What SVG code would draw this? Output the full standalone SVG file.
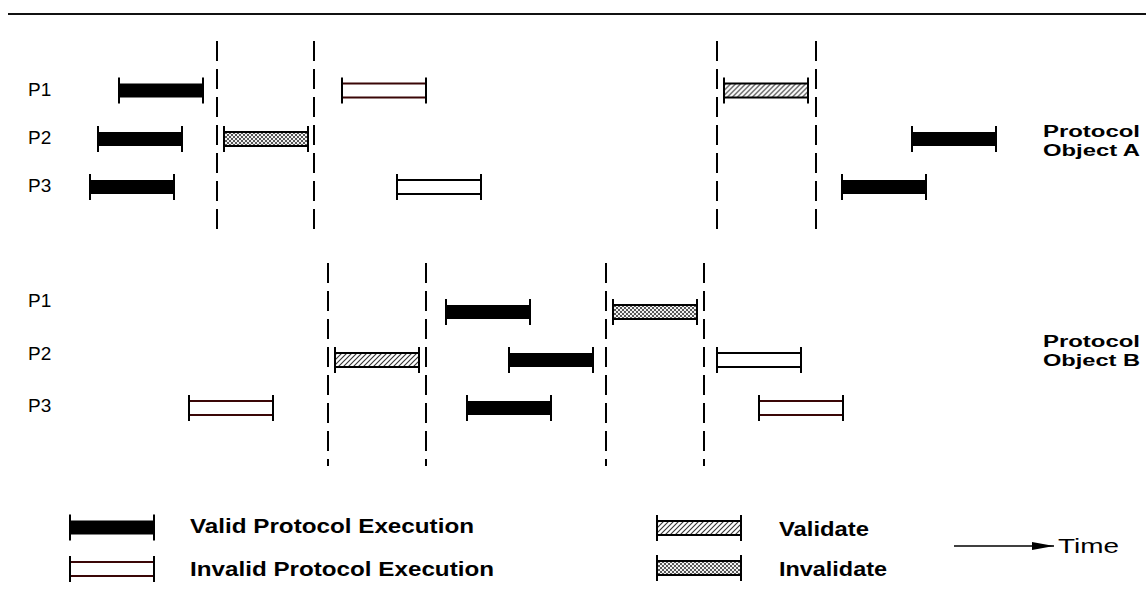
<svg xmlns="http://www.w3.org/2000/svg" xmlns:xlink="http://www.w3.org/1999/xlink" width="1146" height="603" viewBox="0 0 1146 603">
  <style>
    .lbl { font-family: "Liberation Sans", Arial, sans-serif; font-size: 19px; fill: #000; }
    .obj { font-family: "Liberation Sans", Arial, sans-serif; font-size: 16px; font-weight: bold; fill: #000; }
    .leg { font-family: "Liberation Sans", Arial, sans-serif; font-size: 21px; font-weight: bold; fill: #000; }
    .time { font-family: "Liberation Sans", Arial, sans-serif; font-size: 20px; fill: #000; }
    .divider { stroke: #000; stroke-width: 2; stroke-dasharray: 20 8; fill: none; }
    .tick { stroke: #000; stroke-width: 2; }
    .edge { stroke: #000; stroke-width: 2; }
    .edge-red { stroke: #3a0606; stroke-width: 2; }
  </style>
  <defs>
    <!-- diagonal hatch used for "Validate" -->
    <pattern id="hatch" width="5" height="5" patternUnits="userSpaceOnUse">
      <rect width="5" height="5" fill="#fff"/>
      <path d="M0,5 L5,0 M-1,1 L1,-1 M4,6 L6,4" stroke="#333" stroke-width="1.1"/>
    </pattern>
    <!-- cross hatch used for "Invalidate" -->
    <pattern id="cross" width="4" height="4" patternUnits="userSpaceOnUse">
      <rect width="4" height="4" fill="#f2f2f2"/>
      <path d="M0,0 L4,4 M4,0 L0,4" stroke="#444" stroke-width="0.9"/>
    </pattern>
    <marker id="arrow" markerWidth="22" markerHeight="10" refX="22" refY="4" orient="auto" markerUnits="userSpaceOnUse">
      <path d="M0,0 L22,4 L0,8 Z" fill="#000"/>
    </marker>

    <!-- bar shapes, 84 wide, centred vertically on y=0 -->
    <g id="bar-valid">
      <rect x="0" y="-7" width="84" height="14" fill="#000"/>
      <line class="tick" x1="0" y1="-13" x2="0" y2="13"/>
      <line class="tick" x1="84" y1="-13" x2="84" y2="13"/>
    </g>
    <g id="bar-invalid">
      <rect x="0" y="-7" width="84" height="14" fill="#fff"/>
      <line class="edge" x1="0" y1="-7" x2="84" y2="-7"/>
      <line class="edge" x1="0" y1="7" x2="84" y2="7"/>
      <line class="tick" x1="0" y1="-13" x2="0" y2="13"/>
      <line class="tick" x1="84" y1="-13" x2="84" y2="13"/>
    </g>
    <g id="bar-invalid-red">
      <rect x="0" y="-7" width="84" height="14" fill="#fff"/>
      <line class="edge-red" x1="0" y1="-7" x2="84" y2="-7"/>
      <line class="edge-red" x1="0" y1="7" x2="84" y2="7"/>
      <line class="tick" x1="0" y1="-13" x2="0" y2="13"/>
      <line class="tick" x1="84" y1="-13" x2="84" y2="13"/>
    </g>
    <g id="bar-validate">
      <rect x="0" y="-7" width="84" height="14" fill="url(#hatch)" stroke="#000" stroke-width="2"/>
      <line class="tick" x1="0" y1="-13" x2="0" y2="13"/>
      <line class="tick" x1="84" y1="-13" x2="84" y2="13"/>
    </g>
    <g id="bar-invalidate">
      <rect x="0" y="-7" width="84" height="14" fill="url(#cross)" stroke="#000" stroke-width="2"/>
      <line class="tick" x1="0" y1="-13" x2="0" y2="13"/>
      <line class="tick" x1="84" y1="-13" x2="84" y2="13"/>
    </g>
  </defs>

  <rect width="1146" height="603" fill="#fff"/>

  <!-- header rule -->
  <line x1="8" y1="14" x2="1146" y2="14" stroke="#111" stroke-width="1.8"/>

  <!-- phase dividers -->
  <g id="connectors">
    <line class="divider" x1="217" y1="41" x2="217" y2="229"/>
    <line class="divider" x1="314" y1="41" x2="314" y2="229"/>
    <line class="divider" x1="717" y1="41" x2="717" y2="229"/>
    <line class="divider" x1="816" y1="41" x2="816" y2="229"/>
    <line class="divider" x1="328" y1="263" x2="328" y2="466"/>
    <line class="divider" x1="426" y1="263" x2="426" y2="466"/>
    <line class="divider" x1="606" y1="263" x2="606" y2="466"/>
    <line class="divider" x1="704" y1="263" x2="704" y2="466"/>
    <line x1="954" y1="546" x2="1054" y2="546" stroke="#000" stroke-width="1.3" marker-end="url(#arrow)"/>
  </g>

  <!-- Protocol Object A -->
  <g id="rows-a">
    <text class="lbl" x="28" y="96">P1</text>
    <text class="lbl" x="28" y="144">P2</text>
    <text class="lbl" x="28" y="192">P3</text>
  </g>
  <g id="a-p1-valid"><use xlink:href="#bar-valid" x="119" y="90.5"/></g>
  <g id="a-p1-invalid"><use xlink:href="#bar-invalid-red" x="342" y="90.5"/></g>
  <g id="a-p1-validate"><use xlink:href="#bar-validate" x="724" y="90.5"/></g>
  <g id="a-p2-valid-1"><use xlink:href="#bar-valid" x="98" y="139"/></g>
  <g id="a-p2-invalidate"><use xlink:href="#bar-invalidate" x="224" y="139"/></g>
  <g id="a-p2-valid-2"><use xlink:href="#bar-valid" x="912" y="139"/></g>
  <g id="a-p3-valid-1"><use xlink:href="#bar-valid" x="90" y="187"/></g>
  <g id="a-p3-invalid"><use xlink:href="#bar-invalid" x="397" y="187"/></g>
  <g id="a-p3-valid-2"><use xlink:href="#bar-valid" x="842" y="187"/></g>
  <g id="label-a">
    <text class="obj" x="1043" y="137" textLength="97" lengthAdjust="spacingAndGlyphs">Protocol</text>
    <text class="obj" x="1043" y="155.5" textLength="97" lengthAdjust="spacingAndGlyphs">Object A</text>
  </g>

  <!-- Protocol Object B -->
  <g id="rows-b">
    <text class="lbl" x="28" y="307">P1</text>
    <text class="lbl" x="28" y="360">P2</text>
    <text class="lbl" x="28" y="412">P3</text>
  </g>
  <g id="b-p1-valid"><use xlink:href="#bar-valid" x="446" y="312"/></g>
  <g id="b-p1-invalidate"><use xlink:href="#bar-invalidate" x="613" y="312"/></g>
  <g id="b-p2-validate"><use xlink:href="#bar-validate" x="335" y="360"/></g>
  <g id="b-p2-valid"><use xlink:href="#bar-valid" x="509" y="360"/></g>
  <g id="b-p2-invalid"><use xlink:href="#bar-invalid" x="717" y="360"/></g>
  <g id="b-p3-invalid-1"><use xlink:href="#bar-invalid-red" x="189" y="408"/></g>
  <g id="b-p3-valid"><use xlink:href="#bar-valid" x="467" y="408"/></g>
  <g id="b-p3-invalid-2"><use xlink:href="#bar-invalid-red" x="759" y="408"/></g>
  <g id="label-b">
    <text class="obj" x="1043" y="347" textLength="97" lengthAdjust="spacingAndGlyphs">Protocol</text>
    <text class="obj" x="1043" y="365.5" textLength="97" lengthAdjust="spacingAndGlyphs">Object B</text>
  </g>

  <!-- legend -->
  <g id="legend-valid">
    <use xlink:href="#bar-valid" x="70" y="527.5"/>
    <text class="leg" x="190" y="533" textLength="284" lengthAdjust="spacingAndGlyphs">Valid Protocol Execution</text>
  </g>
  <g id="legend-invalid">
    <use xlink:href="#bar-invalid-red" x="70" y="569"/>
    <text class="leg" x="190" y="576" textLength="304" lengthAdjust="spacingAndGlyphs">Invalid Protocol Execution</text>
  </g>
  <g id="legend-validate">
    <use xlink:href="#bar-validate" x="657" y="528"/>
    <text class="leg" x="779" y="536" textLength="90" lengthAdjust="spacingAndGlyphs">Validate</text>
  </g>
  <g id="legend-invalidate">
    <use xlink:href="#bar-invalidate" x="657" y="568"/>
    <text class="leg" x="779" y="576" textLength="108" lengthAdjust="spacingAndGlyphs">Invalidate</text>
  </g>
  <g id="legend-time">
    <text class="time" x="1058" y="553" textLength="61" lengthAdjust="spacingAndGlyphs">Time</text>
  </g>
</svg>
